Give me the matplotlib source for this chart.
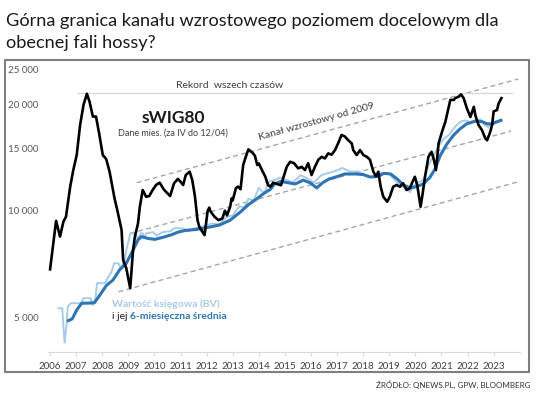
import numpy as np
import matplotlib.pyplot as plt
from matplotlib.patches import Rectangle

plt.rcParams['font.family'] = ['Lato', 'DejaVu Sans']

# sWIG80, monthly
sw_t = [2006.00, 2006.23, 2006.38, 2006.51, 2006.61, 2006.77, 2006.89, 2007.02, 2007.15, 2007.28,
        2007.41, 2007.51, 2007.64, 2007.76, 2007.89, 2008.02, 2008.15, 2008.28, 2008.47, 2008.58,
        2008.74, 2008.80, 2008.92, 2009.07, 2009.18, 2009.25, 2009.37, 2009.44, 2009.55, 2009.68,
        2009.80, 2009.93, 2010.06, 2010.20, 2010.35, 2010.60, 2010.75, 2010.90, 2011.00, 2011.10,
        2011.20, 2011.35, 2011.45, 2011.55, 2011.65, 2011.72, 2011.92, 2012.04, 2012.10, 2012.15,
        2012.30, 2012.45, 2012.60, 2012.70, 2012.78, 2012.90, 2012.96, 2013.00, 2013.12, 2013.20,
        2013.30, 2013.40, 2013.50, 2013.60, 2013.75, 2013.85, 2013.94, 2014.00, 2014.15, 2014.25,
        2014.35, 2014.45, 2014.55, 2014.70, 2014.85, 2014.97, 2015.07, 2015.20, 2015.35, 2015.51,
        2015.64, 2015.77, 2015.89, 2016.02, 2016.15, 2016.28, 2016.41, 2016.53, 2016.66, 2016.79,
        2016.92, 2017.04, 2017.17, 2017.30, 2017.43, 2017.56, 2017.62, 2017.75, 2017.88, 2018.01,
        2018.14, 2018.26, 2018.39, 2018.49, 2018.58, 2018.67, 2018.77, 2018.92, 2019.02, 2019.15,
        2019.28, 2019.41, 2019.53, 2019.66, 2019.79, 2019.89, 2019.98, 2020.07, 2020.20, 2020.28,
        2020.37, 2020.50, 2020.62, 2020.71, 2020.79, 2020.89, 2021.02, 2021.15, 2021.28, 2021.34,
        2021.47, 2021.53, 2021.66, 2021.75, 2021.85, 2021.98, 2022.11, 2022.24, 2022.30, 2022.42,
        2022.55, 2022.68, 2022.75, 2022.87, 2022.94, 2023.00, 2023.13, 2023.19, 2023.30]
sw_v = [6830, 9360, 8450, 9310, 9620, 11690, 13030, 14360, 17460, 19890,
        21400, 20350, 18450, 18450, 16370, 14360, 14000, 12890, 10840, 10000,
        8820, 7260, 6880, 6040, 7740, 8450, 9210, 10260, 11440, 10950,
        11000, 11440, 11820, 12000, 11500, 11000, 11950, 12300, 12070, 11820,
        12610, 12890, 12200, 11000, 9410, 9000, 8530, 10000, 10200, 9950,
        9620, 9410, 9500, 10000, 9700, 10260, 10840, 10700, 11570, 11700,
        11500, 13460, 14200, 14900, 14600, 14300, 13460, 13600, 12890, 12470,
        11820, 11690, 12000, 11900, 11800, 12610, 13310, 13750, 13620, 13170,
        13300, 13030, 13620, 12610, 13300, 13930, 14200, 14050, 14520, 14400,
        14830, 15510, 16370, 16200, 15810, 15500, 14830, 14360, 14830, 14360,
        14200, 13930, 12890, 12500, 12890, 11690, 10950, 10600, 10950, 11690,
        11820, 11690, 11950, 11440, 11570, 12070, 12470, 11820, 10260, 11190,
        12470, 14200, 14670, 13930, 13030, 15500, 16700, 17840, 19650, 20560,
        20560, 20800, 21000, 21300, 20800, 19410, 18400, 19650, 18600, 17460,
        16900, 16020, 15810, 16700, 17460, 19080, 19250, 20100, 20800]

# book value (BV)
bv_t = [2006.32, 2006.47, 2006.52, 2006.56, 2006.62, 2006.68, 2006.80, 2007.20, 2007.28, 2007.55,
        2007.62, 2007.72, 2007.80, 2008.10, 2008.20, 2008.35, 2008.45, 2008.62, 2008.70, 2008.85,
        2008.95, 2009.08, 2009.28, 2009.35, 2009.48, 2009.55, 2009.62, 2009.68, 2009.95, 2010.10,
        2010.30, 2010.60, 2010.80, 2011.10, 2011.30, 2011.60, 2011.90, 2012.20, 2012.50, 2012.75,
        2013.00, 2013.25, 2013.45, 2013.60, 2013.80, 2014.00, 2014.20, 2014.40, 2014.60, 2014.80,
        2015.10, 2015.30, 2015.60, 2015.90, 2016.10, 2016.40, 2016.70, 2017.00, 2017.20, 2017.50,
        2017.80, 2018.10, 2018.40, 2018.70, 2019.00, 2019.30, 2019.60, 2019.80, 2020.00, 2020.30,
        2020.50, 2020.70, 2020.90, 2021.10, 2021.30, 2021.50, 2021.70, 2021.90, 2022.10, 2022.30,
        2022.50, 2022.65, 2022.80, 2022.95, 2023.10, 2023.28]
bv_v = [5300, 5300, 4600, 4220, 4700, 5360, 5480, 5480, 5660, 5660,
        5400, 5500, 6240, 6240, 6450, 6700, 7100, 7100, 6900, 7200,
        7900, 8630, 8630, 8300, 8630, 8630, 8400, 8630, 8700, 8500,
        8700, 8750, 8950, 8900, 8750, 8950, 9050, 9200, 9150, 9600,
        9700, 10300, 10200, 10800, 10700, 11600, 11200, 12100, 12200, 12400,
        12200, 12000, 12600, 12300, 12000, 12600, 12800, 13000, 13200, 12900,
        12900, 12600, 12400, 12800, 12700, 12000, 11600, 11300, 11900, 12200,
        13400, 14300, 15300, 16000, 16400, 17200, 17800, 18000, 17800, 18000,
        18100, 17500, 17200, 17700, 17900, 18000]

# 6-month average of BV
ma_t = [2006.70, 2006.85, 2007.02, 2007.21, 2007.45, 2007.70, 2007.91, 2008.16, 2008.41, 2008.66,
        2008.92, 2009.18, 2009.37, 2009.50, 2009.75, 2010.02, 2010.30, 2010.65, 2010.90, 2011.20,
        2011.60, 2011.98, 2012.49, 2012.90, 2013.28, 2013.60, 2013.92, 2014.20, 2014.45, 2014.60,
        2014.85, 2015.10, 2015.40, 2015.70, 2015.96, 2016.22, 2016.45, 2016.70, 2016.98, 2017.30,
        2017.72, 2018.00, 2018.26, 2018.55, 2018.80, 2019.05, 2019.30, 2019.55, 2019.80, 2020.05,
        2020.30, 2020.55, 2020.75, 2020.95, 2021.20, 2021.45, 2021.70, 2021.97, 2022.30, 2022.55,
        2022.75, 2022.95, 2023.10, 2023.28]
ma_v = [4890, 4950, 5240, 5480, 5480, 5500, 5780, 6150, 6370, 6800,
        7100, 7740, 8270, 8450, 8350, 8300, 8400, 8550, 8700, 8800,
        8850, 8950, 9110, 9400, 9900, 10400, 10800, 11200, 11500, 11900,
        12100, 12000, 11900, 12200, 12000, 11600, 12000, 12300, 12470, 12700,
        12700, 12650, 12450, 12500, 12750, 12700, 12300, 11800, 11600, 11700,
        11900, 12400, 13100, 14300, 15400, 16300, 17000, 17600, 17900, 17850,
        17600, 17600, 17800, 18000]

# growth channel (start year, start value, end year, end value)
chan_upper = [2009.32, 12000, 2023.94, 23550]
chan_mid = [2009.07, 8630, 2023.67, 16790]
chan_lower = [2008.62, 5900, 2023.94, 12070]
record = [2007.08, 2023.70, 21460]

years = list(range(2006, 2024))
yticks = [5000, 10000, 15000, 20000, 25000]
ylabels = ['5 000', '10 000', '15 000', '20 000', '25 000']

W, H = 536, 393
fig = plt.figure(figsize=(W / 100, H / 100), dpi=100)

# frame round the chart
fig.patches.append(Rectangle((5 / W, 1 - 372 / H), 524 / W, 312 / H, transform=fig.transFigure,
                             fill=False, edgecolor='#7f7f7f', lw=1.5))

t1 = fig.text(6 / W, 1 - 21 / H, 'Górna granica kanału wzrostowego poziomem docelowym dla',
              fontsize=14, color='#1a1a1a', va='center', ha='left')
t2 = fig.text(6 / W, 1 - 43 / H, 'obecnej fali hossy?', fontsize=14, color='#1a1a1a',
              va='center', ha='left')
# squeeze title to the reference width
fig.canvas.draw()
w = t1.get_window_extent().width
fs = 14 * 496 / w
t1.set_fontsize(fs)
t2.set_fontsize(fs)

fig.text(530 / W, 1 - 385 / H, 'ŹRÓDŁO: QNEWS.PL, GPW, BLOOMBERG', fontsize=5.8,
         color='#333333', ha='right', va='center')

ax = fig.add_axes([48 / W, 1 - 352 / H, 472 / W, 287 / H])
ax.set_yscale('log')
ax.set_xlim(2005.92, 2024.01)
ax.set_ylim(3989, 25800)

gray_dash = dict(color='#a6a6a6', lw=1, ls=(0, (3.5, 2.5)))
for c in (chan_upper, chan_mid, chan_lower):
    ax.plot([c[0], c[2]], [c[1], c[3]], **gray_dash)
ax.plot(record[:2], [record[2], record[2]], color='#d9d9d9', lw=1)

ax.plot(bv_t, bv_v, color='#a9cbe8', lw=1.4, solid_joinstyle='miter')
ax.plot(ma_t, ma_v, color='#2e75b6', lw=2.2)
ax.plot(sw_t, sw_v, color='black', lw=1.9)

ax.text(2012.86, 22640, 'Rekord  wszech czasów', fontsize=7.5, color='#404040', ha='center', va='center')
ax.text(2010.71, 18270, 'sWIG80', fontsize=12.5, fontweight='bold', color='#1a1a1a',
        ha='center', va='center')
ax.text(2010.71, 16570, 'Dane mies. (za IV do 12/04)', fontsize=6.5, color='#404040',
        ha='center', va='center')
ax.text(2016.22, 17830, 'Kanał wzrostowy od 2009', fontsize=7.5, color='#404040',
        ha='center', va='center', rotation=15.5)
ax.text(2008.38, 5450, 'Wartość księgowa (BV)', fontsize=7.5, fontweight='bold',
        color='#a9cbe8', ha='left', va='center')
t = ax.text(2008.38, 5010, 'i jej ', fontsize=7.5, color='#1a1a1a', ha='left', va='center')
ax.annotate('6-miesięczna średnia', xy=(1, 0), xycoords=t, fontsize=7.5, fontweight='bold',
            color='#2e75b6', ha='left', va='bottom')

ax.set_yticks(yticks)
ax.set_yticklabels(ylabels)
ax.yaxis.set_minor_locator(plt.NullLocator())
ax.set_xticks(years)
ax.set_xticklabels([str(y) for y in years])
ax.tick_params(axis='y', length=0, pad=7, labelsize=7, labelcolor='#595959')
ax.tick_params(axis='x', length=3, direction='out', color='#d9d9d9', pad=4, labelsize=7,
               labelcolor='#404040')
for s in ('top', 'right', 'left'):
    ax.spines[s].set_visible(False)
ax.spines['bottom'].set_color('#d9d9d9')
ax.set_facecolor('none')

fig.savefig('out.png', dpi=100)
